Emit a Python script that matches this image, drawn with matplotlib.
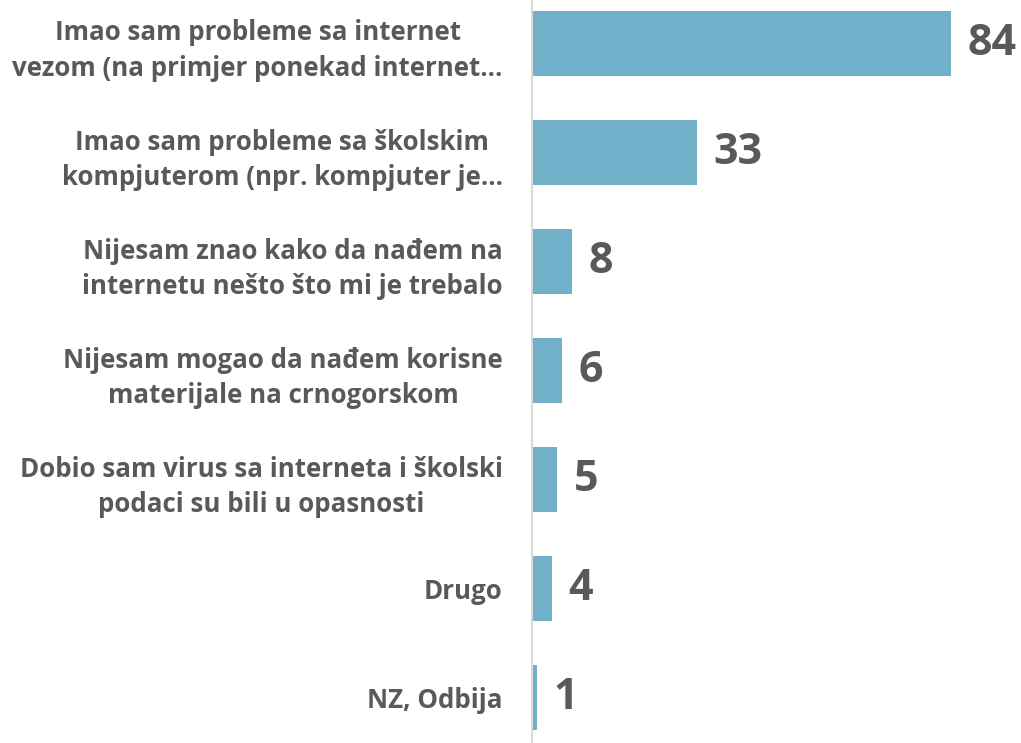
import matplotlib.pyplot as plt

plt.rcParams['font.family'] = ['Open Sans', 'DejaVu Sans']

# Categories and values (top to bottom)
categories = [
    "Imao sam probleme sa internet\nvezom (na primjer ponekad internet…",
    "Imao sam probleme sa školskim\nkompjuterom (npr. kompjuter je…",
    "Nijesam znao kako da nađem na\ninternetu nešto što mi je trebalo",
    "Nijesam mogao da nađem korisne\nmaterijale na crnogorskom",
    "Dobio sam virus sa interneta i školski\npodaci su bili u opasnosti",
    "Drugo",
    "NZ, Odbija",
]
values = [84, 33, 8, 6, 5, 4, 1]

bar_color = '#70b1c9'
text_color = '#595959'

fig = plt.figure(figsize=(10.21, 7.43), dpi=100)
ax = fig.add_axes([532 / 1021, 0, 1 - 532 / 1021, 1])

y = list(range(len(values)))
ax.barh(y, values, height=0.59, color=bar_color)

ax.set_xlim(0, 98)
ax.set_ylim(6.417, -0.399)

ax.set_yticks(y)
ax.set_yticklabels(categories, fontsize=18.6, fontweight='bold', color=text_color,
                   multialignment='center', linespacing=1.4)
ax.tick_params(axis='y', length=0, pad=21)
ax.set_xticks([])

for s in ['top', 'right', 'bottom']:
    ax.spines[s].set_visible(False)
ax.spines['left'].set_color('#d9d9d9')
ax.spines['left'].set_linewidth(1.5)

for yi, v in zip(y, values):
    ax.annotate(f'{v}', xy=(v, yi), xytext=(12, 0), textcoords='offset points',
                ha='left', va='center', fontsize=31, fontweight='bold', color=text_color)

fig.savefig('out.png', dpi=100)
